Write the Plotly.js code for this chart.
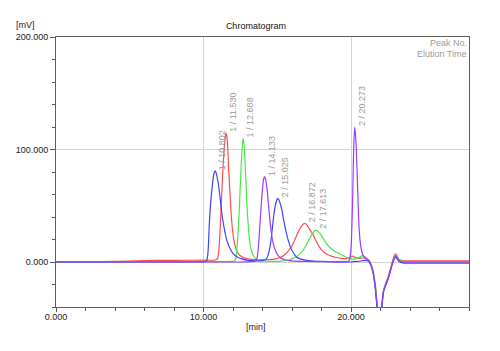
<!DOCTYPE html>
<html>
<head>
<meta charset="utf-8">
<script src="https://cdn.plot.ly/plotly-3.0.1.min.js"></script>
<style>html,body{margin:0;padding:0;background:#fff;}#chart{width:500px;height:351px;}</style>
</head>
<body>
<div id="chart"></div>
<script>
// Time axis values [min] and detector signal [mV] for each trace
var blueT = [0,2,4,6,8,10,10.2,10.3,10.4,10.5,10.6,10.7,10.8,10.9,11.0,11.1,11.2,11.3,11.45,11.6,11.8,12.0,12.3,12.6,13.0,13.5,14.0,14.2,14.35,14.5,14.6,14.7,14.8,14.9,15.0,15.05,15.1,15.2,15.3,15.4,15.5,15.6,15.75,15.9,16.1,16.3,16.6,17.0,17.5,18.0,19.0,20.0,20.5,21.0,21.2,21.35,21.5,21.65,21.8,21.9,22.0,22.1,22.2,22.35,22.5,22.65,22.8,22.9,23.0,23.1,23.25,23.5,24,25,26,27,28];
var blueV = [0,0,0,0,0,0.2,0.8,8,35,55,68,78,81,77,70,60,48,38,27,18.5,12,7.5,4.3,2.8,1.5,1,1.2,2,5,13,22,34,45,52,56,56.3,55.5,52,47,40,33,27,19,13,8,4.5,2.5,1.5,0.8,0.5,0.2,0,0.5,1.5,0.5,-3,-10,-24,-45,-60,-55,-38,-27,-21,-16,-9,-2,1.5,4,3.2,0.5,-0.8,-1,-1,-1,-1,-1];

var redT = [0,2,4,6,8,10,10.8,10.95,11.05,11.15,11.25,11.35,11.45,11.53,11.6,11.7,11.8,11.9,12.0,12.1,12.25,12.45,12.7,13.1,13.6,14.2,14.8,15.2,15.5,15.8,16.0,16.2,16.4,16.6,16.75,16.87,17.0,17.2,17.4,17.6,17.85,18.1,18.3,18.6,19.0,19.4,19.75,19.95,20.1,20.25,20.45,20.65,20.8,21.0,21.2,21.35,21.5,21.65,21.8,21.9,22.0,22.1,22.2,22.35,22.5,22.65,22.8,22.9,23.0,23.1,23.25,23.5,24,25,26,27,28];
var redV = [0.2,0.3,0.5,1.2,1.5,1.6,1.8,3,12,35,65,90,108,114.5,110,84,60,38,25,16.5,10,6,4,2.6,2.2,2,2.5,4,6.5,10.5,14.5,20,26,31,33.5,34.4,33,29,25,19.5,13.5,9.5,7.5,5.5,4,3.2,3,4.3,5.3,4.3,3.2,3.5,3.8,3,1.5,-1.5,-8,-20,-42,-60,-58,-40,-26,-19,-14,-7,0,4.5,7,6,2.5,1.2,1,1,1,1,1];

var greenT = [0,2,4,6,8,10,11,12,12.1,12.2,12.3,12.4,12.5,12.6,12.68,12.75,12.85,12.95,13.05,13.15,13.3,13.5,13.8,14.2,14.8,15.3,15.8,16.2,16.5,16.75,17.0,17.2,17.4,17.6,17.8,18.0,18.2,18.4,18.6,18.9,19.2,19.5,19.8,20.1,20.35,20.6,20.77,20.95,21.2,21.35,21.5,21.65,21.8,21.9,22.0,22.1,22.2,22.35,22.5,22.65,22.8,22.9,23.0,23.1,23.25,23.5,24,26,28];
var greenV = [0,0,0.2,0.3,0.3,0.3,0.4,0.5,0.8,4,18,40,70,97,110,104,80,50,30,17,8,3.5,1.5,0.8,0.6,0.8,1.8,4,7,10.5,16,21,25.5,28.4,27,23.5,19,15.5,12.5,9.5,7.5,5.5,3.5,2.5,3,4.5,5.6,4,1.5,-2,-9,-22,-44,-60,-56,-39,-26,-20,-15,-8,-1,3,5.8,4.8,1.8,0.5,0.3,0.3,0.3];

var purpleT = [0,4,8,10,12,13.0,13.5,13.6,13.7,13.8,13.9,14.0,14.08,14.14,14.2,14.3,14.4,14.5,14.6,14.7,14.8,14.95,15.15,15.5,16,17,18,19,19.8,19.9,20.0,20.1,20.18,20.25,20.33,20.43,20.54,20.65,20.8,21.0,21.2,21.35,21.5,21.65,21.8,21.9,22.0,22.1,22.2,22.35,22.5,22.65,22.8,22.9,23.0,23.1,23.25,23.5,24,28];
var purpleV = [0,0,0,0,0,0.2,0.8,2,10,28,48,65,74,76,74,66,52,37,26,18,13,8,4.5,2,1,0.5,0.3,0.2,0.5,2,12,50,100,120,108,74,32,15,6.5,3.5,1.5,-2.5,-10,-23,-45,-60,-55,-38,-26,-20,-15,-8.5,-1.5,2.5,5,4,1,0,0,0];

// Peak labels (peak no. / elution time) and where they sit
var peakLabels  = ["1 / 10.802","1 / 11.530","1 / 12.688","1 / 14.133","2 / 15.025","2 / 16.872","2 / 17.613","2 / 20.273"];
var peakTimes   = [10.802,11.530,12.688,14.133,15.025,16.872,17.613,20.273];
var peakHeights = [81,114.5,110,76,56.3,34.4,28.4,120];

// Axis ticks
var xTickVals = [0,10,20];
var xTickText = ["0.000","10.000","20.000"];
var yTickVals = [0,100,200];
var yTickText = ["0.000","100.000","200.000"];

var FONT = "Liberation Sans, Arial, sans-serif";

function trace(t, v, color) {
  return {x: t, y: v, type: 'scatter', mode: 'lines',
          line: {color: color, width: 1.2, shape: 'spline', smoothing: 0.7},
          hoverinfo: 'skip', showlegend: false};
}

var data = [
  trace(redT, redV, '#ff4d4d'),
  trace(greenT, greenV, '#45e845'),
  trace(blueT, blueV, '#4040ff'),
  trace(purpleT, purpleV, '#9a3cff')
];

var annotations = peakLabels.map(function(lbl, i) {
  return {x: peakTimes[i], y: peakHeights[i], xref: 'x', yref: 'y', text: lbl,
          textangle: -90, showarrow: false, xanchor: 'left', yanchor: 'bottom',
          xshift: 0, yshift: -1, font: {family: FONT, size: 9, color: '#9a9a9a'}};
});
annotations.push({xref: 'paper', yref: 'paper', x: -0.073, y: 1.045, text: '[mV]', showarrow: false,
  xanchor: 'center', yanchor: 'middle', font: {family: FONT, size: 9, color: '#222'}});
annotations.push({xref: 'paper', yref: 'paper', x: 0.484, y: -0.074, text: '[min]', showarrow: false,
  xanchor: 'center', yanchor: 'middle', font: {family: FONT, size: 9, color: '#222'}});
annotations.push({xref: 'paper', yref: 'paper', x: 1.0, y: 0.978, text: 'Peak No.', showarrow: false,
  xanchor: 'right', yanchor: 'middle', font: {family: FONT, size: 9, color: '#9a9a9a'}});
annotations.push({xref: 'paper', yref: 'paper', x: 1.0, y: 0.937, text: 'Elution Time', showarrow: false,
  xanchor: 'right', yanchor: 'middle', font: {family: FONT, size: 9, color: '#9a9a9a'}});

var layout = {
  width: 500, height: 351,
  margin: {l: 56, r: 31, t: 37, b: 44, pad: 0},
  paper_bgcolor: '#fff', plot_bgcolor: '#fff',
  font: {family: FONT, size: 9, color: '#222'},
  title: {text: 'Chromatogram', xref: 'paper', x: 0.484, xanchor: 'center',
          yref: 'container', y: 0.926, yanchor: 'middle',
          font: {family: FONT, size: 9, color: '#111'}},
  xaxis: {range: [0, 28], tickmode: 'array', tickvals: xTickVals, ticktext: xTickText,
          ticks: 'outside', ticklen: 4, tickcolor: '#555', tickwidth: 1,
          ticklabelstandoff: -3,
          showline: true, linecolor: '#606060', linewidth: 1, mirror: true,
          showgrid: true, gridcolor: '#d4d4d4', gridwidth: 1, zeroline: false,
          minor: {tickmode: 'linear', tick0: 0, dtick: 2, ticks: 'outside', ticklen: 3, tickcolor: '#555', showgrid: false},
          tickfont: {family: FONT, size: 9, color: '#222'}, fixedrange: true},
  yaxis: {range: [-40, 200], tickmode: 'array', tickvals: yTickVals, ticktext: yTickText,
          ticks: 'outside', ticklen: 5, tickcolor: '#555', tickwidth: 1,
          showline: true, linecolor: '#606060', linewidth: 1, mirror: true,
          showgrid: true, gridcolor: '#d4d4d4', gridwidth: 1, zeroline: false,
          minor: {tickmode: 'linear', tick0: 0, dtick: 20, ticks: 'outside', ticklen: 3, tickcolor: '#555', showgrid: false},
          tickfont: {family: FONT, size: 9, color: '#222'}, fixedrange: true},
  annotations: annotations,
  showlegend: false
};

Plotly.newPlot('chart', data, layout, {staticPlot: true, displayModeBar: false});
</script>
</body>
</html>
